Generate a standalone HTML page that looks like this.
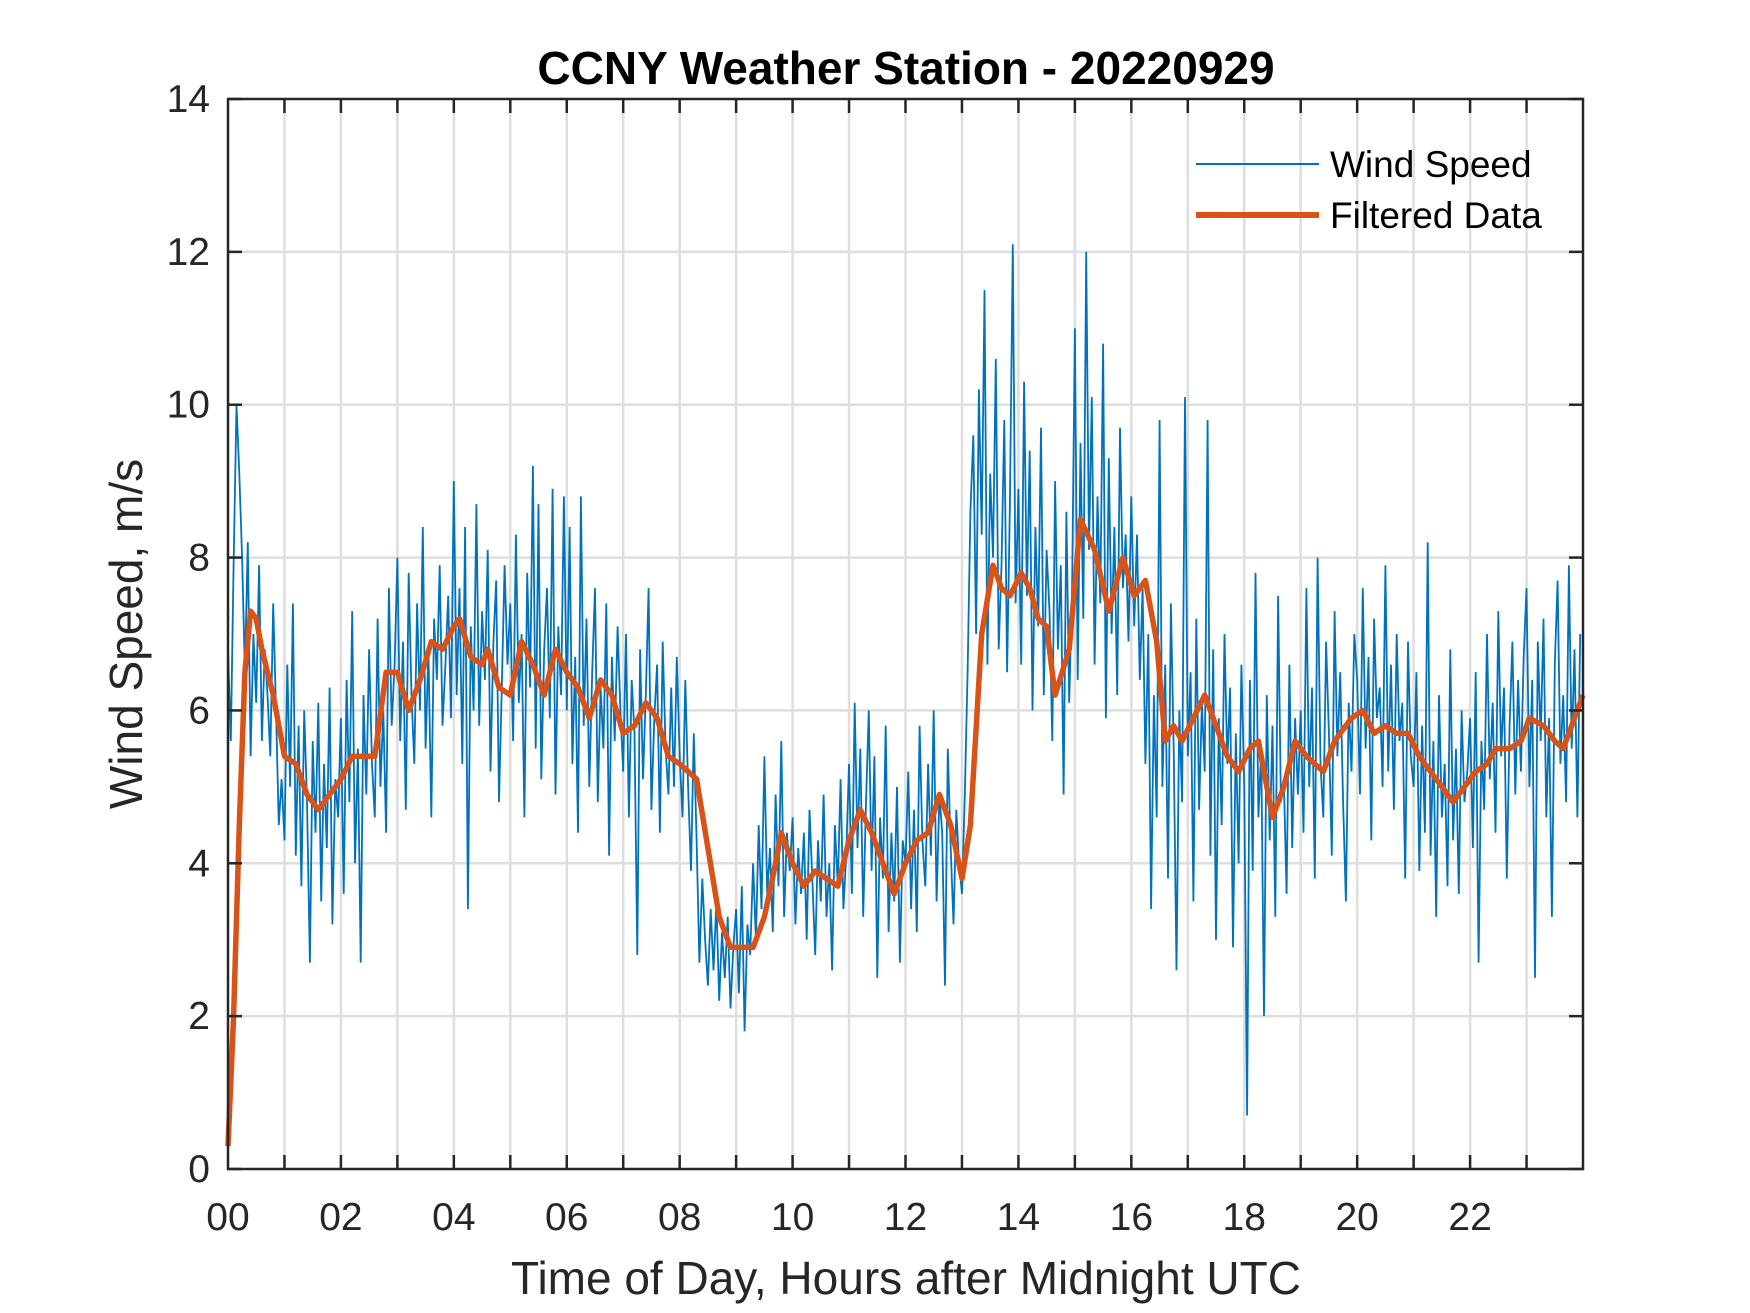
<!DOCTYPE html>
<html><head><meta charset="utf-8"><style>
html,body{margin:0;padding:0;background:#fff}
svg{display:block;font-family:"Liberation Sans",Arial,sans-serif}
</style></head><body>
<svg id="chart" width="1750" height="1313" viewBox="0 0 1750 1313" xmlns="http://www.w3.org/2000/svg">
<rect width="1750" height="1313" fill="#fff"/>
<g id="grid"></g>
<g id="plot"></g>
<g id="axes"></g>
<text x="906" y="84" text-anchor="middle" font-size="46" font-weight="bold" fill="#000">CCNY Weather Station - 20220929</text>
<text x="906" y="1294" text-anchor="middle" font-size="46" fill="#262626">Time of Day, Hours after Midnight UTC</text>
<text transform="translate(142,634) rotate(-90)" text-anchor="middle" font-size="46" fill="#262626">Wind Speed, m/s</text>
<g>
<line x1="1196" y1="164" x2="1319" y2="164" stroke="#0072BD" stroke-width="2"/>
<text x="1330" y="177" font-size="37" fill="#000">Wind Speed</text>
<line x1="1196" y1="215" x2="1319" y2="215" stroke="#D95319" stroke-width="6"/>
<text x="1330" y="228" font-size="37" fill="#000">Filtered Data</text>
</g>
</svg>
<script>
const xTicks = [0,2,4,6,8,10,12,14,16,18,20,22];
const xTickLabels = ["00","02","04","06","08","10","12","14","16","18","20","22"];
const yTicks = [0,2,4,6,8,10,12,14];
const yTickLabels = ["0","2","4","6","8","10","12","14"];
const rawPerHour = 20;
const rawSpeed = [
6.8,5.6,7.9,10.0,9.1,8.0,6.5,8.2,5.4,7.0,6.1,7.9,5.6,6.8,6.2,5.4,7.4,6.0,4.5,5.1,
4.3,6.6,5.0,7.4,4.1,5.8,3.7,6.0,4.8,2.7,5.6,4.4,6.1,3.5,5.3,4.2,6.3,3.2,5.1,4.6,
5.9,3.6,6.4,4.8,7.3,4.0,5.5,2.7,6.2,4.9,6.8,5.3,4.6,7.2,5.0,6.0,4.4,7.6,5.8,6.6,
8.0,5.6,6.9,4.7,7.8,6.2,5.3,7.4,6.0,8.4,5.5,6.8,4.6,7.2,6.4,7.9,5.8,6.6,7.5,5.9,
9.0,6.2,7.6,5.3,8.4,3.4,7.1,6.0,8.7,5.8,7.3,6.4,8.1,5.2,6.9,7.7,4.8,6.3,7.9,6.6,
7.4,5.6,8.3,6.1,7.0,4.6,7.8,6.3,9.2,5.5,8.7,5.1,6.8,7.6,5.9,8.9,4.9,7.1,6.2,8.8,
6.0,8.4,5.3,6.7,4.4,8.8,5.8,7.2,5.0,6.5,7.6,4.8,6.3,5.5,7.4,4.1,6.7,5.6,7.1,6.0,
5.2,7.0,4.6,6.4,5.7,2.8,6.8,5.1,6.2,7.6,4.7,5.9,6.6,4.4,6.9,5.5,4.9,6.3,5.0,6.7,
5.4,4.6,6.4,5.0,3.9,5.7,4.3,2.7,3.8,3.0,2.4,3.4,2.6,3.5,2.2,3.1,2.5,3.3,2.1,2.9,
3.4,2.3,3.7,1.8,3.2,2.8,4.0,3.0,4.5,3.4,5.4,3.6,4.2,3.1,4.9,3.7,5.6,3.3,4.4,3.9,
4.6,3.2,4.2,3.6,4.4,3.0,4.7,3.8,2.8,4.3,3.5,4.9,3.3,4.0,2.6,4.5,3.7,5.1,3.4,4.1,
5.3,3.6,6.1,4.2,5.5,3.3,4.8,6.0,3.9,5.4,2.5,4.6,3.8,5.8,3.1,4.4,3.5,5.0,2.7,4.3,
4.0,5.2,3.4,4.7,3.1,5.8,4.3,3.7,5.3,4.1,6.0,3.5,4.9,4.4,2.4,5.5,4.2,3.2,4.7,4.0,
3.6,4.9,6.5,8.6,9.6,7.0,10.2,8.3,11.5,6.6,9.1,8.0,10.6,6.8,7.9,9.8,6.5,8.7,12.1,7.4,
8.9,6.6,10.3,7.5,9.4,6.0,8.4,7.1,9.7,6.2,8.1,7.3,5.6,9.0,6.8,7.9,4.9,8.6,6.1,7.6,
11.0,6.4,9.5,7.2,12.0,8.1,10.1,6.6,8.8,7.4,10.8,5.9,9.3,7.0,8.4,6.2,9.7,7.6,8.3,6.9,
8.8,7.1,8.3,6.4,7.6,5.3,7.0,3.4,6.2,4.6,9.8,5.0,6.6,3.8,7.4,5.5,2.6,6.0,4.8,10.1,
5.4,6.5,3.5,7.2,4.7,6.1,5.2,9.8,4.1,6.8,3.0,5.9,4.5,7.0,5.3,6.3,2.9,5.7,4.0,6.6,
5.0,0.7,6.4,3.9,7.8,4.6,5.5,2.0,6.2,4.3,5.8,3.3,7.5,4.8,5.1,3.6,6.6,4.2,5.9,4.9,
6.0,4.4,7.6,5.0,6.3,3.8,8.0,5.3,4.6,6.9,5.7,4.1,7.3,5.4,6.5,4.8,3.5,6.1,5.2,7.0,
6.4,4.9,7.6,5.5,6.7,4.3,7.2,5.9,6.3,5.0,7.9,5.2,6.6,4.7,7.0,5.6,6.1,3.8,6.9,5.4,
5.0,6.5,3.9,5.8,4.4,8.2,4.1,5.6,3.3,6.2,4.6,5.3,3.7,6.8,4.3,5.5,3.6,6.0,4.8,5.2,
5.9,4.2,6.5,2.7,5.6,4.7,7.0,5.1,6.1,4.4,7.3,5.4,6.3,3.8,5.8,6.9,4.9,6.4,5.2,6.7,
7.6,5.0,6.4,2.5,6.9,5.6,7.2,4.6,5.9,3.3,6.6,7.7,5.3,6.2,4.8,7.9,5.5,6.8,4.6,7.0
];
const filtHours = [0,0.1,0.2,0.3,0.4,0.5,0.6,0.8,1.0,1.2,1.4,1.6,1.8,2.0,2.2,2.4,2.6,2.8,3.0,3.2,3.4,3.6,3.8,4.0,4.1,4.3,4.5,4.6,4.8,5.0,5.2,5.4,5.6,5.8,6.0,6.2,6.4,6.6,6.8,7.0,7.2,7.4,7.6,7.8,8.0,8.3,8.5,8.7,8.9,9.1,9.3,9.5,9.7,9.8,10.0,10.2,10.4,10.6,10.8,11.0,11.2,11.4,11.6,11.8,12.0,12.2,12.4,12.6,12.8,
13.0,13.15,13.35,13.55,13.7,13.85,14.05,14.2,14.35,14.5,14.65,14.9,15.1,15.35,15.6,15.85,16.05,16.25,16.45,16.6,16.75,16.9,17.1,17.3,17.5,17.7,17.9,18.1,18.25,18.5,18.7,18.9,19.1,19.4,19.6,19.9,20.1,20.3,20.5,20.7,20.9,21.1,21.3,21.5,21.7,21.9,22.1,22.3,22.45,22.7,22.9,23.05,23.3,23.5,23.65,24.0];
const filtSpeed = [0.3,2.0,4.5,6.5,7.3,7.2,6.8,6.2,5.4,5.3,4.9,4.7,4.9,5.1,5.4,5.4,5.4,6.5,6.5,6.0,6.4,6.9,6.8,7.1,7.2,6.7,6.6,6.8,6.3,6.2,6.9,6.6,6.2,6.8,6.5,6.3,5.9,6.4,6.2,5.7,5.8,6.1,5.9,5.4,5.3,5.1,4.2,3.3,2.9,2.9,2.9,3.3,4.0,4.4,4.0,3.7,3.9,3.8,3.7,4.3,4.7,4.4,4.0,3.6,4.0,4.3,4.4,4.9,4.5,
3.8,4.5,7.0,7.9,7.6,7.5,7.8,7.6,7.2,7.1,6.2,6.8,8.5,8.1,7.3,8.0,7.5,7.7,6.9,5.6,5.8,5.6,5.9,6.2,5.8,5.4,5.2,5.5,5.6,4.6,5.0,5.6,5.4,5.2,5.6,5.9,6.0,5.7,5.8,5.7,5.7,5.4,5.2,5.0,4.8,5.0,5.2,5.3,5.5,5.5,5.6,5.9,5.8,5.6,5.5,6.2];

const L=228,R=1583,T=99,B=1169,xMax=24,yMax=14;
const X=h=>L+(R-L)*h/xMax;
const Y=v=>B-(B-T)*v/yMax;
const NS="http://www.w3.org/2000/svg";
function mk(tag,attrs,parent){const e=document.createElementNS(NS,tag);for(const k in attrs)e.setAttribute(k,attrs[k]);parent.appendChild(e);return e;}
const grid=document.getElementById('grid'),plot=document.getElementById('plot'),axes=document.getElementById('axes');
for(let h=1;h<xMax;h++){
  const g=mk('line',{x1:X(h),x2:X(h),y1:T,y2:B,stroke:'#dedede','stroke-width':2.5},grid);
  
  
}
yTicks.forEach(v=>{ if(v>0&&v<yMax){
  const g=mk('line',{x1:L,x2:R,y1:Y(v),y2:Y(v),stroke:'#dedede','stroke-width':2.5},grid);
  
  
}});
let d='';
rawSpeed.forEach((v,i)=>{const h=i/rawPerHour;d+=(i?'L':'M')+X(h).toFixed(1)+' '+Y(v).toFixed(1);});
const raw=mk('path',{d:d,fill:'none',stroke:'#0072BD','stroke-width':1.8,'stroke-linejoin':'miter'},plot);


let d2='';
filtHours.forEach((h,i)=>{d2+=(i?'L':'M')+X(h).toFixed(1)+' '+Y(filtSpeed[i]).toFixed(1);});
const fl=mk('path',{d:d2,fill:'none',stroke:'#D95319','stroke-width':5.5,'stroke-linejoin':'round'},plot);


const box=mk('rect',{x:L,y:T,width:R-L,height:B-T,fill:'none',stroke:'#262626','stroke-width':2.5},axes);


for(let h=1;h<xMax;h++){
  mk('line',{x1:X(h),x2:X(h),y1:B,y2:B-14,stroke:'#262626','stroke-width':2.5},axes);
  mk('line',{x1:X(h),x2:X(h),y1:T,y2:T+14,stroke:'#262626','stroke-width':2.5},axes);
}
xTicks.forEach((h,i)=>{
  const t=mk('text',{x:X(h),y:1230,'text-anchor':'middle','font-size':39,fill:'#262626'},axes);
  t.textContent=xTickLabels[i];
  
  
});
yTicks.forEach((v,i)=>{
  mk('line',{x1:L,x2:L+14,y1:Y(v),y2:Y(v),stroke:'#262626','stroke-width':2.5},axes);
  mk('line',{x1:R,x2:R-14,y1:Y(v),y2:Y(v),stroke:'#262626','stroke-width':2.5},axes);
  const t=mk('text',{x:210,y:Y(v)+13,'text-anchor':'end','font-size':39,fill:'#262626'},axes);
  t.textContent=yTickLabels[i];
  
  
});
</script>
</body></html>
